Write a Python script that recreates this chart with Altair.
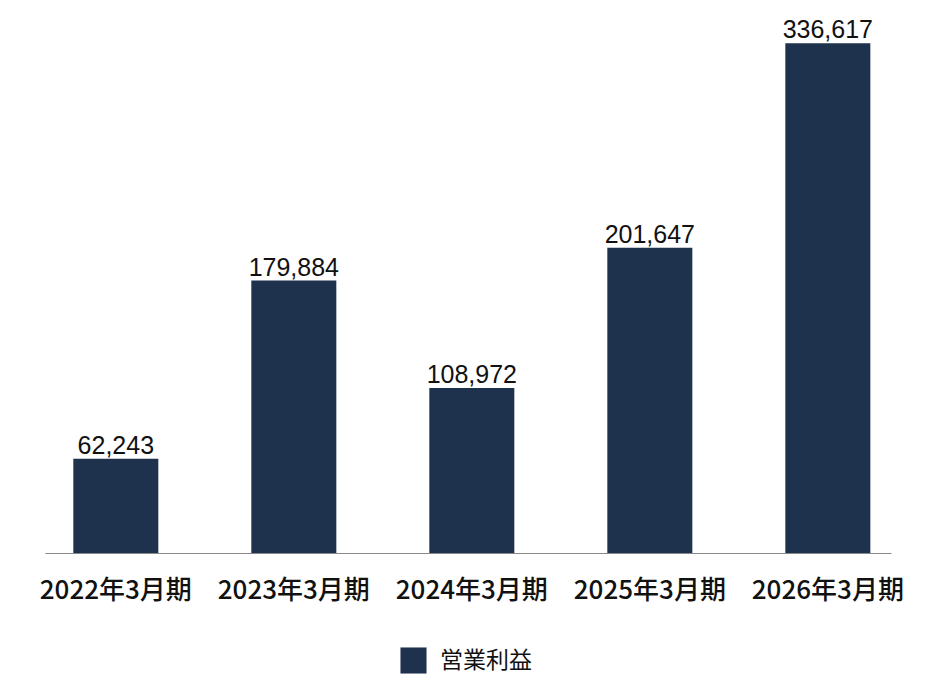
import altair as alt
import pandas as pd

categories = ["2022年3月期", "2023年3月期", "2024年3月期", "2025年3月期", "2026年3月期"]
values = [62243, 179884, 108972, 201647, 336617]
series_name = "営業利益"

df = pd.DataFrame({
    "period": categories,
    "value": values,
    "series": [series_name] * len(categories),
})
df["label"] = df["value"].map(lambda v: f"{v:,}")

BAR = "#1e314d"

x_enc = alt.X(
    "period:N",
    sort=categories,
    title=None,
    scale=alt.Scale(paddingInner=0.5225, paddingOuter=0.1376, align=0.578),
    axis=alt.Axis(
        labelAngle=0,
        labelFont="Noto Sans CJK JP",
        labelFontSize=26,
        labelFontWeight=500,
        labelColor="#111111",
        labelPadding=24,
        ticks=False,
        tickSize=0,
        domainColor="#888888",
        domainWidth=1,
        grid=False,
    ),
)
y_enc = alt.Y(
    "value:Q",
    title=None,
    scale=alt.Scale(domain=[0, 352000], nice=False),
    axis=None,
)

bars = alt.Chart(df).mark_bar(size=85).encode(
    x=x_enc,
    y=y_enc,
    color=alt.Color(
        "series:N",
        scale=alt.Scale(domain=[series_name], range=[BAR]),
        legend=alt.Legend(
            title=None,
            orient="none",
            legendX=355,
            legendY=627,
            symbolType="square",
            symbolSize=680,
            symbolStrokeWidth=0,
            symbolOpacity=1,
            labelFont="Noto Sans CJK JP",
            labelFontSize=23,
            labelColor="#111111",
            labelOffset=13,
            padding=0,
        ),
    ),
)

text = alt.Chart(df).mark_text(
    baseline="alphabetic",
    dy=-5,
    font="Liberation Sans",
    fontSize=25,
    color="#111111",
).encode(
    x=alt.X("period:N", sort=categories),
    y=alt.Y("value:Q"),
    text="label:N",
)

chart = alt.layer(bars, text).properties(
    width=846,
    height=533,
    autosize=alt.AutoSizeParams(type="none"),
    padding={"left": 37, "top": 12, "right": 41, "bottom": 139},
).configure_view(stroke=None)

chart.save("out.html", embed_options={"renderer": "svg", "actions": False})
